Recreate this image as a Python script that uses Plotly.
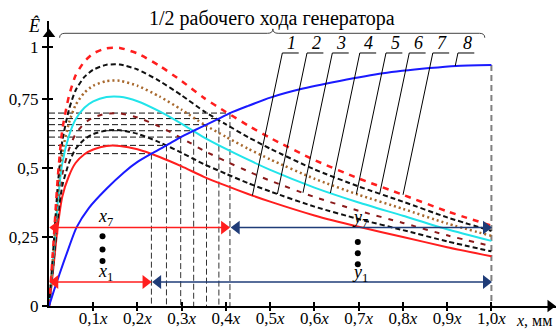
import numpy as np
import plotly.graph_objects as go

# ---------------- data ----------------
x_grid = [0, 0.004, 0.01, 0.02, 0.03, 0.045, 0.06, 0.08, 0.1, 0.13, 0.16, 0.2,
          0.25, 0.3, 0.35, 0.4, 0.45, 0.5, 0.6, 0.7, 0.8, 0.9, 1.0]

e1 = [0, .052, .140, .291, .396, .471, .518, .550, .567, .580, .580, .568,
      .540, .506, .468, .436, .406, .378, .328, .287, .250, .213, .180]
e2 = [0, .058, .153, .320, .435, .518, .569, .604, .623, .636, .637, .624,
      .593, .555, .514, .479, .445, .415, .360, .315, .275, .234, .198]
e3 = [0, .063, .168, .350, .476, .567, .623, .662, .683, .697, .698, .683,
      .650, .608, .563, .524, .488, .454, .395, .345, .301, .256, .217]
e4 = [0, .068, .182, .380, .517, .616, .676, .718, .741, .757, .758, .742,
      .705, .660, .611, .569, .530, .493, .429, .375, .327, .278, .236]
e5 = [0, .074, .196, .409, .556, .663, .728, .773, .798, .815, .816, .798,
      .759, .711, .658, .613, .570, .531, .461, .403, .352, .299, .254]
e6 = [0, .079, .211, .439, .597, .711, .781, .830, .856, .874, .875, .857,
      .815, .763, .706, .658, .612, .570, .495, .433, .378, .321, .272]
e7 = [0, .084, .225, .469, .638, .760, .835, .886, .915, .934, .935, .915,
      .870, .815, .754, .703, .654, .609, .529, .462, .403, .343, .291]

blue_x = [0, 0.005, 0.012, 0.024, 0.04, 0.062, 0.09, 0.13, 0.17, 0.2, 0.2315,
          0.2655, 0.2977, 0.327, 0.356, 0.384, 0.409, 0.45, 0.5, 0.567, 0.657,
          0.755, 0.86, 0.92, 1.0]
blue_y = [0, 0.025, 0.06, 0.117, 0.19, 0.284, 0.355, 0.425, 0.485, 0.522, 0.552,
          0.582, 0.612, 0.635, 0.657, 0.679, 0.699, 0.725, 0.755, 0.785, 0.815,
          0.843, 0.862, 0.870, 0.873]

cross_x = [0.2315, 0.2655, 0.2977, 0.327, 0.356, 0.384, 0.409]
cross_y = [0.552, 0.582, 0.612, 0.635, 0.657, 0.679, 0.699]

x_tick_vals = [0.1, 0.2, 0.3, 0.4, 0.5, 0.6, 0.7, 0.8, 0.9, 1.0]
x_tick_text = ["0,1<i>x</i>", "0,2<i>x</i>", "0,3<i>x</i>", "0,4<i>x</i>", "0,5<i>x</i>",
               "0,6<i>x</i>", "0,7<i>x</i>", "0,8<i>x</i>", "0,9<i>x</i>", "1,0<i>x</i>"]
y_tick_vals = [0, 0.25, 0.5, 0.75, 0.938]
y_tick_text = ["0", "0,25", "0,5", "0,75", "1"]

curve_labels = ["1", "2", "3", "4", "5", "6", "7", "8"]
leader_x = [0.4598, 0.5163, 0.5741, 0.6361, 0.6948, 0.7475, 0.8002, 0.9182]

title_text = "1/2 рабочего хода генератора"

# ---------------- styles ----------------
FONT = "Liberation Serif, Times New Roman, serif"
styles = [
    dict(color="#ff1e1e", width=2, dash="solid"),
    dict(color="#111111", width=2, dash="5px,3px"),
    dict(color="#8b1a1a", width=2, dash="5px,7px"),
    dict(color="#22e4ea", width=2, dash="solid"),
    dict(color="#a8692e", width=2.5, dash="2px,3px"),
    dict(color="#111111", width=2, dash="5px,3px"),
    dict(color="#ff1e1e", width=2.5, dash="6px,6px"),
]
curves = [e1, e2, e3, e4, e5, e6, e7]
RED = "#ff1e1e"
NAVY = "#1f3c78"
PXU = 442.4  # px per x unit

fig = go.Figure()

shapes = []
for cx, cy in zip(cross_x, cross_y):
    shapes.append(dict(type="line", xref="x", yref="y", x0=0, y0=cy, x1=cx, y1=cy,
                       line=dict(color="#111", width=1, dash="6px,3px"), layer="below"))
    shapes.append(dict(type="line", xref="x", yref="y", x0=cx, y0=cy, x1=cx, y1=0,
                       line=dict(color="#333", width=1, dash="6px,3px"), layer="below"))
shapes.append(dict(type="line", xref="x", yref="y", x0=x_tick_vals[-1], y0=blue_y[-1],
                   x1=x_tick_vals[-1], y1=0,
                   line=dict(color="#808080", width=2, dash="6px,4px"), layer="below"))

for ys, st in zip(curves, styles):
    fig.add_trace(go.Scatter(x=x_grid, y=ys, mode="lines",
                             line=dict(color=st["color"], width=st["width"], dash=st["dash"],
                                       shape="spline", smoothing=0.6),
                             hoverinfo="skip", showlegend=False))
fig.add_trace(go.Scatter(x=blue_x, y=blue_y, mode="lines",
                         line=dict(color="#1a1aff", width=2, shape="spline", smoothing=0.6),
                         hoverinfo="skip", showlegend=False))

fig.add_trace(go.Scatter(x=[None], y=[None], xaxis="x2", yaxis="y2", showlegend=False,
                         hoverinfo="skip"))

# leaders
all_curves_x = [x_grid] * 7 + [blue_x]
all_curves_y = curves + [blue_y]
y_top = 0.9167
y_num = 0.952
ul_len = 0.037
slope = 276 * 0.21 / PXU
annotations = []
for i, lx in enumerate(leader_x):
    ly = float(np.interp(lx, all_curves_x[i], all_curves_y[i]))
    tx = lx + (y_top - ly) * slope
    shapes.append(dict(type="line", xref="x", yref="y", x0=lx, y0=ly, x1=tx, y1=y_top,
                       line=dict(color="black", width=1)))
    shapes.append(dict(type="line", xref="x", yref="y", x0=tx, y0=y_top, x1=tx + ul_len, y1=y_top,
                       line=dict(color="black", width=1)))
    annotations.append(dict(x=tx + ul_len / 2 + 0.002, y=y_num, xref="x", yref="y",
                            text="<i>%s</i>" % curve_labels[i], showarrow=False,
                            font=dict(family=FONT, size=18, color="black")))

# brace
bx0, bx1, bm = 0.024, 0.985, 0.506
yl, ye, yt = 0.988, 0.972, 1.004
d = 0.012
brace = (f"M{bx0},{ye} Q{bx0},{yl} {bx0 + d},{yl} L{bm - d},{yl} Q{bm},{yl} {bm},{yt} "
         f"Q{bm},{yl} {bm + d},{yl} L{bx1 - d},{yl} Q{bx1},{yl} {bx1},{ye}")
shapes.append(dict(type="path", xref="x", yref="y", path=brace,
                   line=dict(color="#444", width=1)))


def double_arrow(x0, x1, y, color, size=12):
    off = size * 0.45 / PXU
    fig.add_trace(go.Scatter(x=[x0 + off, x1 - off], y=[y, y], mode="lines",
                             line=dict(color=color, width=1.5), hoverinfo="skip",
                             showlegend=False, cliponaxis=False))
    fig.add_trace(go.Scatter(x=[x0 + off, x1 - off], y=[y, y], mode="markers",
                             marker=dict(symbol=["triangle-left", "triangle-right"], size=size,
                                         color=color, line=dict(width=0)),
                             hoverinfo="skip", showlegend=False, cliponaxis=False))


arrow_y = {7: 0.284, 1: 0.087}
for k, idx in [(7, 6), (1, 0)]:
    cx = cross_x[idx]
    double_arrow(0.002, cx - 0.001, arrow_y[k], RED)
    double_arrow(cx + 0.003, 1.0, arrow_y[k], NAVY)
    lab_y = 0.32 if k == 7 else 0.12
    annotations.append(dict(x=0.127, y=lab_y, xref="x", yref="y",
                            text="<i>x</i><sub>%d</sub>" % k, showarrow=False,
                            font=dict(family=FONT, size=18, color="black")))
    lab_y2 = 0.318 if k == 7 else 0.118
    annotations.append(dict(x=0.702, y=lab_y2, xref="x", yref="y",
                            text="<i>y</i><sub>%d</sub>" % k, showarrow=False,
                            font=dict(family=FONT, size=18, color="black")))

fig.add_trace(go.Scatter(x=[0.121, 0.121, 0.121, 0.698, 0.698, 0.698],
                         y=[0.2525, 0.205, 0.163, 0.232, 0.191, 0.151], mode="markers",
                         marker=dict(color="black", size=6), hoverinfo="skip", showlegend=False))

# axis arrowheads
fig.add_trace(go.Scatter(x=[1.133, 0], y=[0, 0.985], mode="markers",
                         marker=dict(symbol=["triangle-right", "triangle-up"], size=11,
                                     color="black", line=dict(width=0)),
                         hoverinfo="skip", showlegend=False, cliponaxis=False))

annotations.append(dict(x=0.503, y=1.0105, xref="x", yref="paper", text=title_text,
                        showarrow=False, xanchor="center", yanchor="middle",
                        font=dict(family=FONT, size=20, color="black")))
annotations.append(dict(x=-0.0286, y=0.985, xref="paper", yref="paper", text="<i>Ê</i>",
                        showarrow=False, xanchor="center", yanchor="middle",
                        font=dict(family=FONT, size=18, color="black")))
annotations.append(dict(x=0.918, y=-0.05, xref="paper", yref="paper",
                        text="<i>x</i>, мм", showarrow=False, xanchor="left", yanchor="middle",
                        font=dict(family=FONT, size=16, color="black")))

axis_common = dict(showgrid=False, zeroline=False, automargin=False)
fig.update_layout(
    width=558, height=330,
    margin=dict(l=49, r=2, t=21, b=24, autoexpand=False),
    paper_bgcolor="white", plot_bgcolor="white",
    font=dict(family=FONT, size=16, color="black"),
    xaxis=dict(range=[0, 1.146], showline=True, linewidth=2, linecolor="black",
               ticks="inside", ticklen=4, tickwidth=1.5, tickcolor="black",
               tickvals=x_tick_vals, ticktext=x_tick_text, ticklabelstandoff=-4,
               tickfont=dict(family=FONT, size=17, color="black"), **axis_common),
    yaxis=dict(range=[0, 1.0326], showline=True, linewidth=2, linecolor="black",
               ticks="outside", ticklen=5, tickwidth=1.5, tickcolor="black",
               tickvals=y_tick_vals, ticktext=y_tick_text,
               tickfont=dict(family=FONT, size=17, color="black"), **axis_common),
    xaxis2=dict(overlaying="x", matches="x", anchor="y2", ticks="outside", ticklen=4,
                tickwidth=1.5, tickcolor="black", tickvals=x_tick_vals,
                showticklabels=False, showline=False, **axis_common),
    yaxis2=dict(overlaying="y", matches="y", anchor="x2", ticks="inside", ticklen=4,
                tickwidth=1.5, tickcolor="black", tickvals=y_tick_vals[1:],
                showticklabels=False, showline=False, **axis_common),
    shapes=shapes,
    annotations=annotations,
)

fig.write_html("out.html")
